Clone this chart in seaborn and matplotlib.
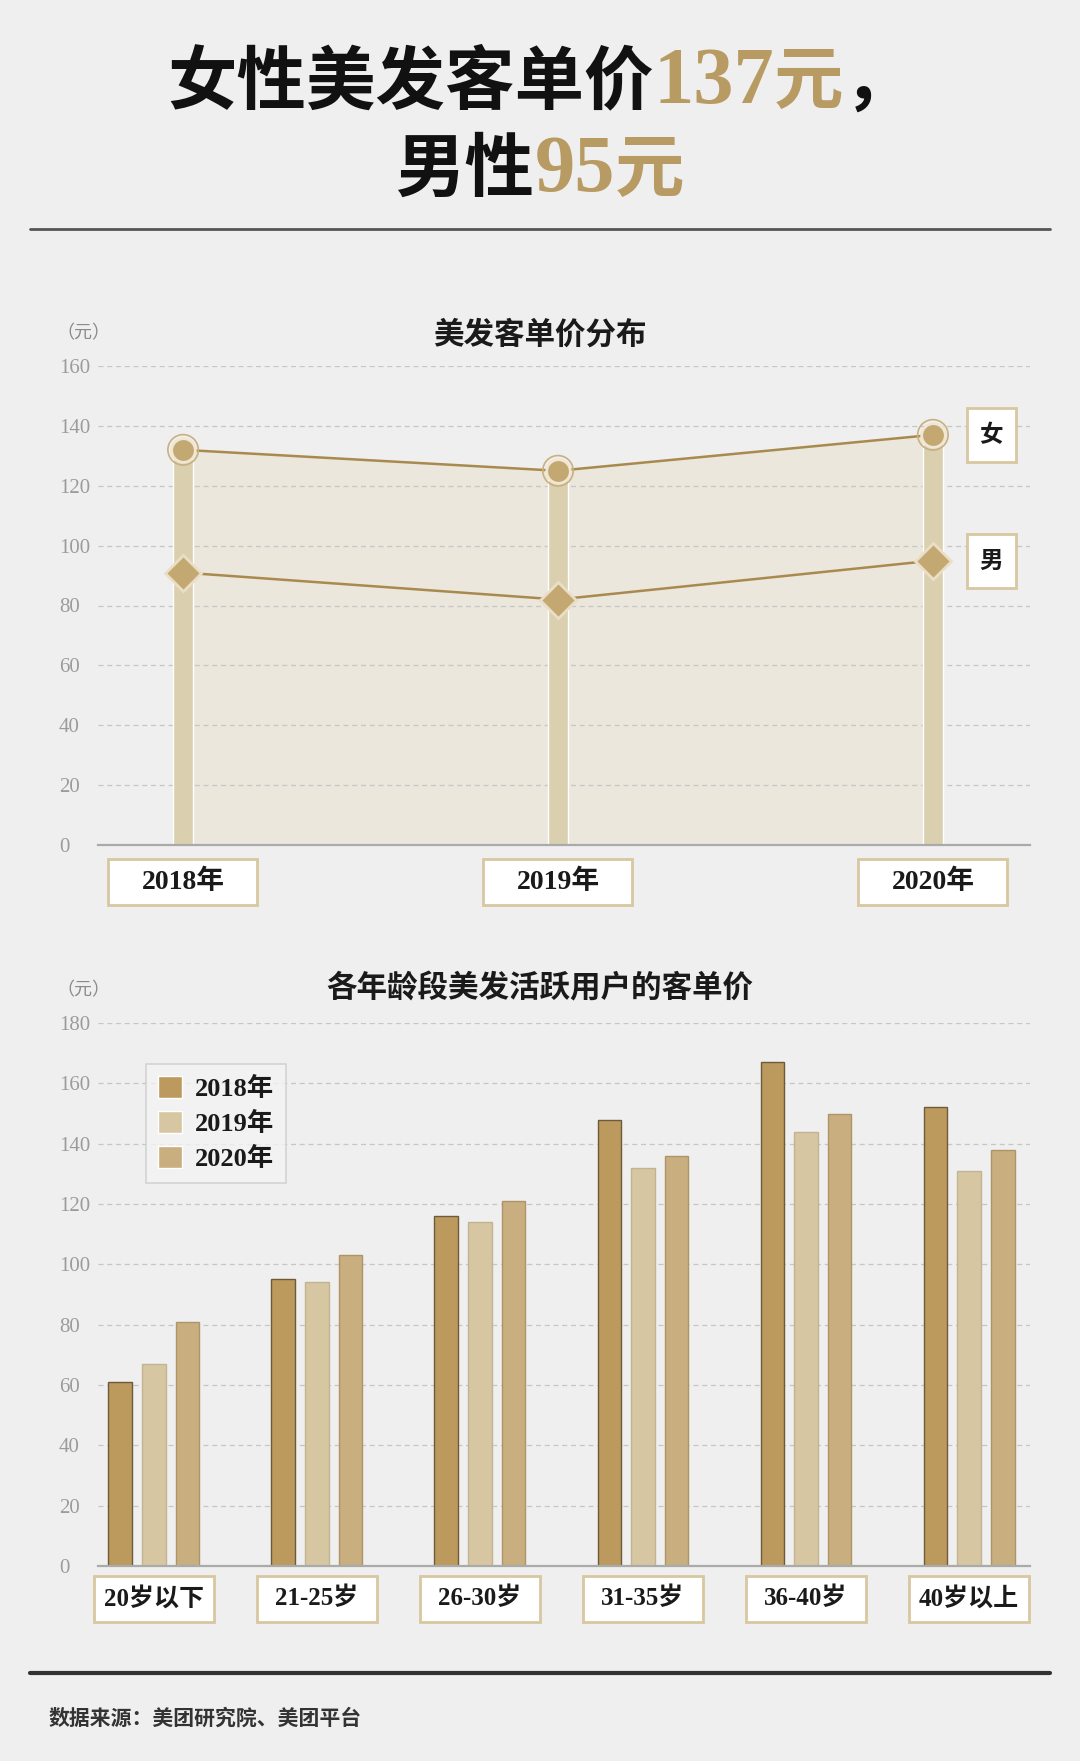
import numpy as np
import pandas as pd
import seaborn as sns
import matplotlib
matplotlib.use("Agg")
import matplotlib.pyplot as plt
from matplotlib.patches import Rectangle
from matplotlib.transforms import blended_transform_factory

# ---- data ----
years = ["2018年", "2019年", "2020年"]
female = [132, 125, 137]
male = [91, 82, 95]

ages = ["20岁以下", "21-25岁", "26-30岁", "31-35岁", "36-40岁", "40岁以上"]
price_2018 = [61, 95, 116, 148, 167, 152]
price_2019 = [67, 94, 114, 132, 144, 131]
price_2020 = [81, 103, 121, 136, 150, 138]
bar_years = ["2018年", "2019年", "2020年"]

GOLD = "#B89A63"
LINE = "#A98A4E"
BG = "#EFEFEF"
CJK = ["Noto Sans CJK SC", "DejaVu Sans"]
SERIF = ["Liberation Serif", "Noto Sans CJK SC", "DejaVu Sans"]

sns.set_theme(style="white")
plt.rcParams["font.family"] = SERIF
plt.rcParams["axes.unicode_minus"] = False

W, H = 1080, 1761
fig = plt.figure(figsize=(W / 100, H / 100), dpi=100, facecolor=BG)


def fx(px):
    return px / W


def fy(py):
    return 1 - py / H


# ---- headline, built from pieces so the numbers can be gold ----
def headline(parts, base_y):
    texts = []
    for s, color, fam, size in parts:
        t = fig.text(0, fy(base_y), s, color=color, family=fam, fontsize=size,
                     fontweight="bold", va="baseline", ha="left")
        texts.append(t)
    r = fig.canvas.get_renderer()
    widths = [t.get_window_extent(r).width for t in texts]
    x = (W - sum(widths)) / 2
    for t, w in zip(texts, widths):
        t.set_x(fx(x))
        x += w


headline([("女性美发客单价", "#111111", CJK, 50),
          ("137", GOLD, SERIF, 58),
          ("元", GOLD, CJK, 50),
          ("，", "#111111", CJK, 50)], 103)
headline([("男性", "#111111", CJK, 50),
          ("95", GOLD, SERIF, 58),
          ("元", GOLD, CJK, 50)], 191)

fig.add_artist(plt.Line2D([fx(30), fx(1050)], [fy(229), fy(229)], color="#555555", lw=2))
fig.add_artist(plt.Line2D([fx(30), fx(1050)], [fy(1673), fy(1673)], color="#333333", lw=3))
fig.text(fx(49), fy(1718), "数据来源：美团研究院、美团平台", family=CJK, fontsize=15,
         fontweight="bold", color="#333333", va="center")


def style_axis(ax, ymax):
    ax.set_facecolor("none")
    ax.set_ylim(0, ymax)
    ax.set_yticks(np.arange(0, ymax + 1, 20))
    ax.yaxis.grid(True, linestyle=(0, (4, 3)), color="#C6C6C6", lw=0.9, zorder=1)
    ax.xaxis.grid(False)
    for side in ["left", "right", "top"]:
        ax.spines[side].set_visible(False)
    ax.spines["bottom"].set_color("#AAAAAA")
    ax.spines["bottom"].set_linewidth(1.6)
    ax.spines["bottom"].set_zorder(5)
    ax.tick_params(axis="y", length=0, pad=28, labelcolor="#9B9B9B", labelsize=15)
    for lab in ax.get_yticklabels():
        lab.set_ha("left")
    ax.set_xticks([])
    ax.set_xlabel("")
    ax.set_ylabel("")


# ---- chart 1: line chart ----
fig.text(fx(56), fy(333), "（元）", family=CJK, fontsize=13, color="#8A8A8A", va="center")
fig.text(fx(540), fy(335), "美发客单价分布", family=CJK, fontsize=22, fontweight="bold",
         color="#1A1A1A", ha="center", va="center")

ax1 = fig.add_axes([fx(98), fy(845), fx(1030) - fx(98), fy(366) - fy(845)])
pos = np.arange(len(years))
ax1.fill_between(pos, female, 0, color="#E8E1CF", alpha=0.55, zorder=0.5, lw=0)
ax1.bar(pos, female, width=0.055, color="#DAD0B0", zorder=2)
sns.lineplot(x=pos, y=female, color=LINE, lw=1.8, marker="o", markersize=17,
             markerfacecolor="#C3A871", markeredgecolor="#EFE7D4", markeredgewidth=2,
             ax=ax1, zorder=3)
sns.scatterplot(x=pos, y=female, s=480, facecolor="none", edgecolor="#C9B07E",
                linewidth=1.2, ax=ax1, zorder=4)
sns.lineplot(x=pos, y=male, color=LINE, lw=1.8, marker="D", markersize=18,
             markerfacecolor="#C3A871", markeredgecolor="#EADFC6", markeredgewidth=2,
             ax=ax1, zorder=3)
ax1.set_xlim(-0.227, 2.259)
style_axis(ax1, 160)

tr1 = blended_transform_factory(ax1.transData, ax1.transAxes)
for xi, lab in zip(pos, years):
    ax1.add_patch(Rectangle((xi - 0.199, -0.125), 0.397, 0.096, transform=tr1, clip_on=False,
                            fc="white", ec="#D8C7A0", lw=2, zorder=6))
    ax1.text(xi, -0.077, lab, transform=tr1, ha="center", va="center", fontsize=20,
             fontweight="bold", color="#1A1A1A", zorder=7)

for val, lab in [(female[-1], "女"), (male[-1], "男")]:
    ax1.add_patch(Rectangle((2.091, val - 9), 0.131, 18, clip_on=False,
                            fc="white", ec="#D8C7A0", lw=2, zorder=6))
    ax1.text(2.156, val, lab, family=CJK, ha="center", va="center", fontsize=17,
             fontweight="bold", color="#1A1A1A", zorder=7, clip_on=False)

# ---- chart 2: grouped bars ----
fig.text(fx(56), fy(990), "（元）", family=CJK, fontsize=13, color="#8A8A8A", va="center")
fig.text(fx(540), fy(988), "各年龄段美发活跃用户的客单价", family=CJK, fontsize=22,
         fontweight="bold", color="#1A1A1A", ha="center", va="center")

ax2 = fig.add_axes([fx(98), fy(1566), fx(1030) - fx(98), fy(1023) - fy(1566)])
df2 = pd.DataFrame({
    "age": ages * 3,
    "value": price_2018 + price_2019 + price_2020,
    "year": [bar_years[0]] * len(ages) + [bar_years[1]] * len(ages) + [bar_years[2]] * len(ages),
})
palette = {bar_years[0]: "#BC9A5E", bar_years[1]: "#D6C6A2", bar_years[2]: "#C9AE7F"}
edges = {bar_years[0]: "#6E5A3A", bar_years[1]: "#C2B392", bar_years[2]: "#AE9568"}
sns.barplot(data=df2, x="age", y="value", hue="year", palette=palette, saturation=1,
            width=0.62, gap=0.3, linewidth=1, ax=ax2, zorder=3)
for cont, yr in zip(ax2.containers, bar_years):
    for p in cont:
        p.set_edgecolor(edges[yr])
ax2.set_xlim(-0.343, 5.374)
style_axis(ax2, 180)

handles, labels = ax2.get_legend_handles_labels()
leg = ax2.legend(handles, labels, loc="upper left", bbox_to_anchor=(0.0515, 0.9245),
                 borderaxespad=0, frameon=True, fancybox=False, fontsize=19,
                 handlelength=0.9, handleheight=0.9, handletextpad=0.5,
                 labelspacing=0.38, borderpad=0.45)
leg.get_frame().set_edgecolor("#CCCCCC")
leg.get_frame().set_facecolor("#F3F3F3")
leg.get_frame().set_linewidth(1.2)
for t in leg.get_texts():
    t.set_fontweight("bold")
    t.set_color("#1A1A1A")

tr2 = blended_transform_factory(ax2.transData, ax2.transAxes)
for xi, lab in enumerate(ages):
    ax2.add_patch(Rectangle((xi - 0.368, -0.103), 0.736, 0.085, transform=tr2, clip_on=False,
                            fc="white", ec="#D8C7A0", lw=2, zorder=6))
    ax2.text(xi, -0.06, lab, transform=tr2, ha="center", va="center", fontsize=18,
             fontweight="bold", color="#1A1A1A", zorder=7)

fig.savefig("out.png", dpi=100, facecolor=BG)
